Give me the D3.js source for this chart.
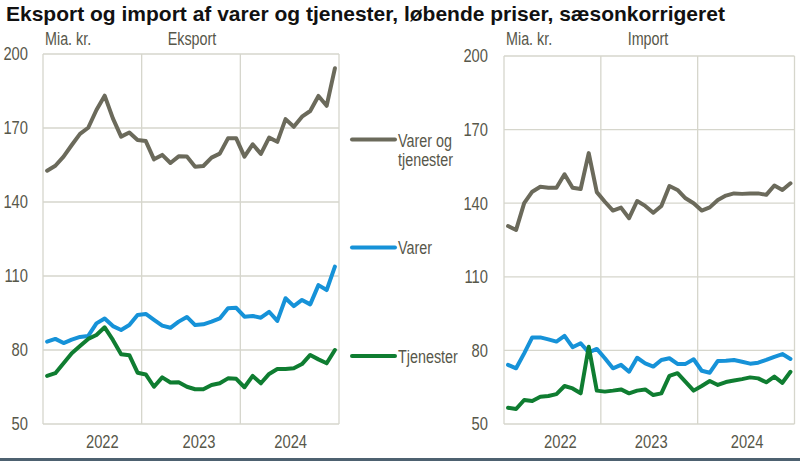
<!DOCTYPE html>
<html><head><meta charset="utf-8">
<script src="https://cdn.jsdelivr.net/npm/d3@7/dist/d3.min.js"></script>
<style>
html,body{margin:0;padding:0;background:#fff;}
svg{display:block;}
text{font-family:"Liberation Sans Narrow","Arial Narrow","Liberation Sans",Arial,sans-serif;}
</style></head>
<body>
<svg id="chart" width="800" height="461"></svg>
<script>
// ---- Data ----
const title = "Eksport og import af varer og tjenester, løbende priser, sæsonkorrigeret";
const years = ["2022", "2023", "2024"];
const months = d3.range(36).map(i => `${years[Math.floor(i/12)]}-${String(i%12+1).padStart(2,"0")}`);
const yTicks = [50, 80, 110, 140, 170, 200];
const seriesNames = ["Varer og tjenester", "Varer", "Tjenester"];

const eksportTotal = [152.7,154.7,158.4,163.1,167.6,170.1,177.3,183.1,173.9,166.5,168.2,165.1,
  164.7,157.3,159.1,155.8,158.5,158.4,154.3,154.6,158.0,159.6,165.8,165.8,
  158.4,163.4,159.5,166.1,164.4,173.6,170.5,174.6,176.9,183.0,179.0,194.2];
const eksportVarer = [83.4,84.5,82.8,84.2,85.3,85.7,90.8,92.8,89.7,88.1,90.1,94.2,
  94.6,92.2,89.9,89.0,91.5,93.4,90.1,90.4,91.5,92.8,96.9,97.1,
  93.5,93.8,93.1,95.5,91.8,101.0,97.8,100.3,98.5,106.3,104.3,113.8];
const eksportTjenester = [69.5,70.6,74.6,78.7,81.6,84.5,86.1,89.2,84.1,78.3,77.9,70.8,
  70.1,65.1,68.9,66.8,66.9,65.1,64.1,64.1,65.8,66.5,68.5,68.3,
  64.9,69.5,66.5,70.3,72.3,72.3,72.6,74.3,78.0,76.2,74.6,80.0];

const importTotal = [130.7,129.1,140.0,144.7,146.7,146.3,146.3,151.8,146.3,145.8,160.4,144.5,
  140.6,137.0,138.2,133.9,140.9,138.9,136.1,138.9,147.0,145.4,142.0,140.0,
  137.0,138.3,141.3,143.1,144.0,143.8,144.0,144.0,143.4,147.2,145.4,148.1];
const importVarer = [74.1,72.7,78.8,85.3,85.3,84.5,83.6,85.9,81.3,82.9,79.2,80.6,
  76.8,72.7,74.1,71.3,77.0,74.7,73.4,76.1,76.8,74.5,74.5,76.4,
  71.7,70.9,75.7,75.8,76.1,75.4,74.6,75.0,76.1,77.4,78.5,76.5];
const importTjenester = [56.6,56.1,59.8,59.4,61.1,61.4,62.2,65.5,64.5,62.5,81.5,63.6,
  63.2,63.6,64.1,62.5,63.6,64.1,61.8,62.5,69.6,70.7,67.2,63.6,
  65.5,67.5,65.9,67.1,67.7,68.3,69.0,68.6,67.0,69.3,66.8,71.3];

// ---- Styles ----
const colors = ["#6b6a5b", "#1692d8", "#0f7d31"];
const textColor = "#57574a";
const gridColor = "#d6d6cc";

// Emulate a narrow face if none is installed
const ctx = document.createElement("canvas").getContext("2d");
ctx.font = '18px "Liberation Sans Narrow", "Arial Narrow", monospace';
const wN = ctx.measureText("Varer og tjenester 2022").width;
ctx.font = '18px "Liberation Sans", Arial, monospace';
const wR = ctx.measureText("Varer og tjenester 2022").width;
const narrowK = (wN / wR < 0.9) ? 1 : 0.82;

function ntext(g, x, y, str, size, anchor) {
  return g.append("text")
    .attr("transform", `translate(${x},${y}) scale(${narrowK},1)`)
    .attr("text-anchor", anchor || "start")
    .attr("fill", textColor).style("font-size", size + "px")
    .text(str);
}

const svg = d3.select("#chart");

svg.append("text").attr("x", 6).attr("y", 21)
  .style("font-family", "'Liberation Sans', Arial, sans-serif")
  .style("font-weight", "bold").style("font-size", "21px").attr("fill", "#111")
  .text(title);

function panel(cfg) {
  const x = d3.scaleBand().domain(months).range([cfg.x0, cfg.x1]).padding(0);
  const y = d3.scaleLinear().domain([50, 200]).range([424, cfg.yTop]);
  const g = svg.append("g");

  g.selectAll("line.h").data(yTicks).join("line")
    .attr("x1", cfg.x0).attr("x2", cfg.x1)
    .attr("y1", d => y(d)).attr("y2", d => y(d))
    .attr("stroke", gridColor).attr("stroke-width", 1.3);
  const vb = [0, 12, 24].map(i => x(months[i])).concat([cfg.x1]);
  g.selectAll("line.v").data(vb).join("line")
    .attr("x1", d => d).attr("x2", d => d)
    .attr("y1", y(200)).attr("y2", y(50))
    .attr("stroke", gridColor).attr("stroke-width", 1.3);

  yTicks.forEach(t => ntext(g, cfg.labelX, y(t) + 6.3, t, 18, "end"));

  years.forEach((yr, i) => ntext(g, x(months[i*12]) + x.bandwidth()*6 + cfg.yearShift[i], 448, yr, 18, "middle"));

  ntext(g, cfg.x0 + 2, 45, "Mia. kr.", 17.5);
  ntext(g, cfg.headX, 45, cfg.head, 17.5, "middle");

  const line = d3.line().x((d, i) => x(months[i]) + x.bandwidth()/2).y(d => y(d));
  cfg.series.forEach((s, k) => {
    g.append("path").datum(s).attr("d", line).attr("fill", "none")
      .attr("stroke", colors[k]).attr("stroke-width", 4)
      .attr("stroke-linejoin", "round").attr("stroke-linecap", "round");
  });
}

panel({x0: 43, x1: 339, yTop: 54, labelX: 28, head: "Eksport", headX: 192,
  yearShift: [10, 8, 1], series: [eksportTotal, eksportVarer, eksportTjenester]});
panel({x0: 504, x1: 794.5, yTop: 56, labelX: 488, head: "Import", headX: 648,
  yearShift: [8, 2, 1], series: [importTotal, importVarer, importTjenester]});

// legend
const legY = [139.5, 247.5, 356];
const leg = svg.append("g");
seriesNames.forEach((n, k) => {
  leg.append("line").attr("x1", 352).attr("x2", 395).attr("y1", legY[k]).attr("y2", legY[k])
    .attr("stroke", colors[k]).attr("stroke-width", 4).attr("stroke-linecap", "round");
});
ntext(leg, 398, 147, "Varer og", 17.5);
ntext(leg, 398, 165.5, "tjenester", 17.5);
ntext(leg, 398, 254, seriesNames[1], 17.5);
ntext(leg, 398, 362.5, seriesNames[2], 17.5);

// bottom border
svg.append("line").attr("x1", 0).attr("x2", 800).attr("y1", 459.5).attr("y2", 459.5)
  .attr("stroke", "#4d6170").attr("stroke-width", 3);
</script>
</body></html>
